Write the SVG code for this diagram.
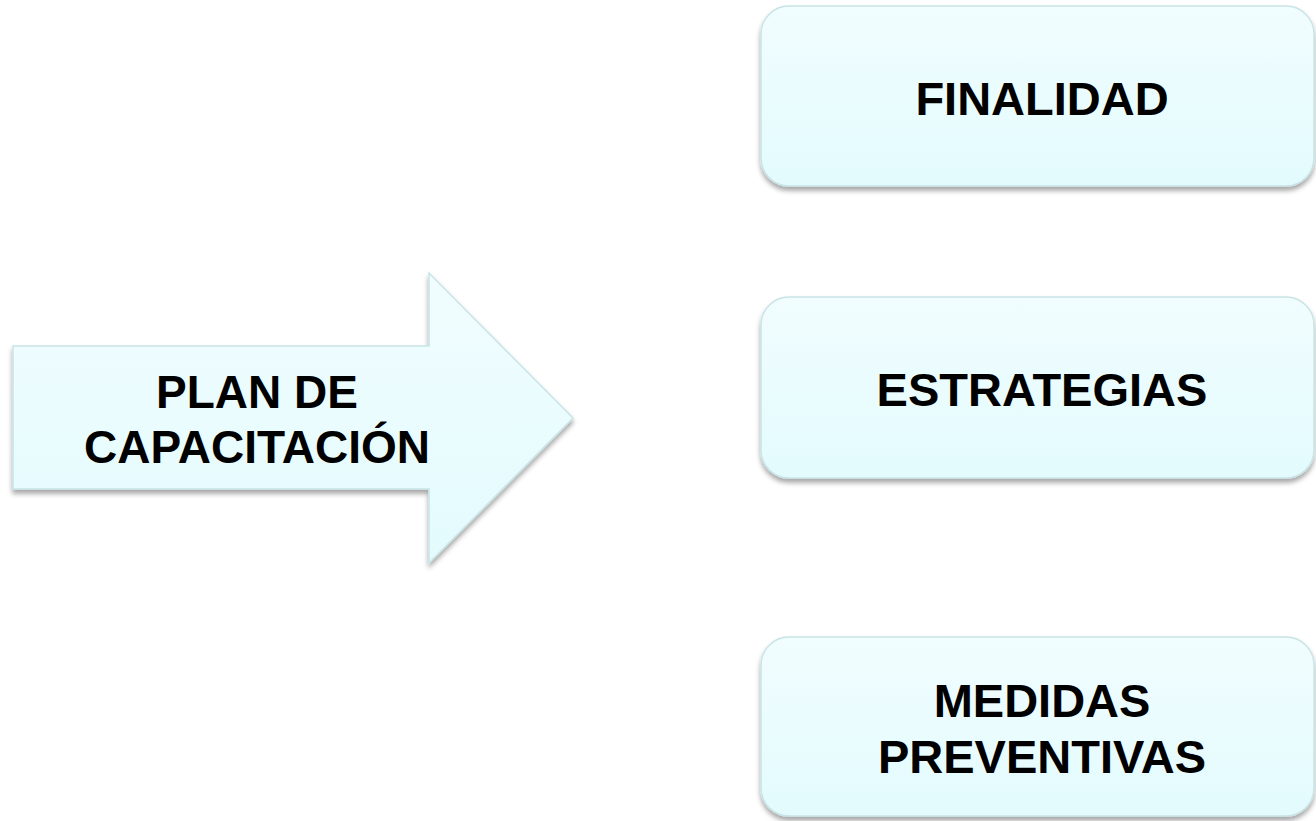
<svg xmlns="http://www.w3.org/2000/svg" width="1316" height="821" viewBox="0 0 1316 821">
<style>
.shape{fill:url(#g);stroke:#c9e4e6;stroke-width:1.5;filter:url(#sh)}
.t{font-family:"Liberation Sans",Arial,sans-serif;font-weight:bold;fill:#000;text-anchor:middle}
.b{font-size:47px}
.a{font-size:46px}
</style>
<defs>
<linearGradient id="g" x1="0" y1="0" x2="0" y2="1">
<stop offset="0" stop-color="#f1fdff"/>
<stop offset="1" stop-color="#e3fbfd"/>
</linearGradient>
<filter id="sh" x="-10%" y="-10%" width="120%" height="130%">
<feDropShadow dx="0" dy="4" stdDeviation="2.5" flood-color="#000" flood-opacity="0.35"/>
</filter>
</defs>
<rect width="1316" height="821" fill="#fff"/>
<g id="connectors"></g>
<g id="plan">
<path class="shape" d="M13,346 H429 V273 L573,418 L429,563 V489 H13 Z"/>
<text class="t a" x="257" y="408">PLAN DE</text>
<text class="t a" x="257" y="463">CAPACITACIÓN</text>
</g>
<g id="finalidad">
<rect class="shape" x="761" y="6" width="553" height="180" rx="28"/>
<text class="t b" x="1042" y="115">FINALIDAD</text>
</g>
<g id="estrategias">
<rect class="shape" x="761" y="297" width="553" height="181" rx="28"/>
<text class="t b" x="1042" y="406">ESTRATEGIAS</text>
</g>
<g id="medidas">
<rect class="shape" x="761" y="637" width="553" height="179" rx="28"/>
<text class="t b" x="1042" y="717">MEDIDAS</text>
<text class="t b" x="1042" y="773">PREVENTIVAS</text>
</g>
</svg>
